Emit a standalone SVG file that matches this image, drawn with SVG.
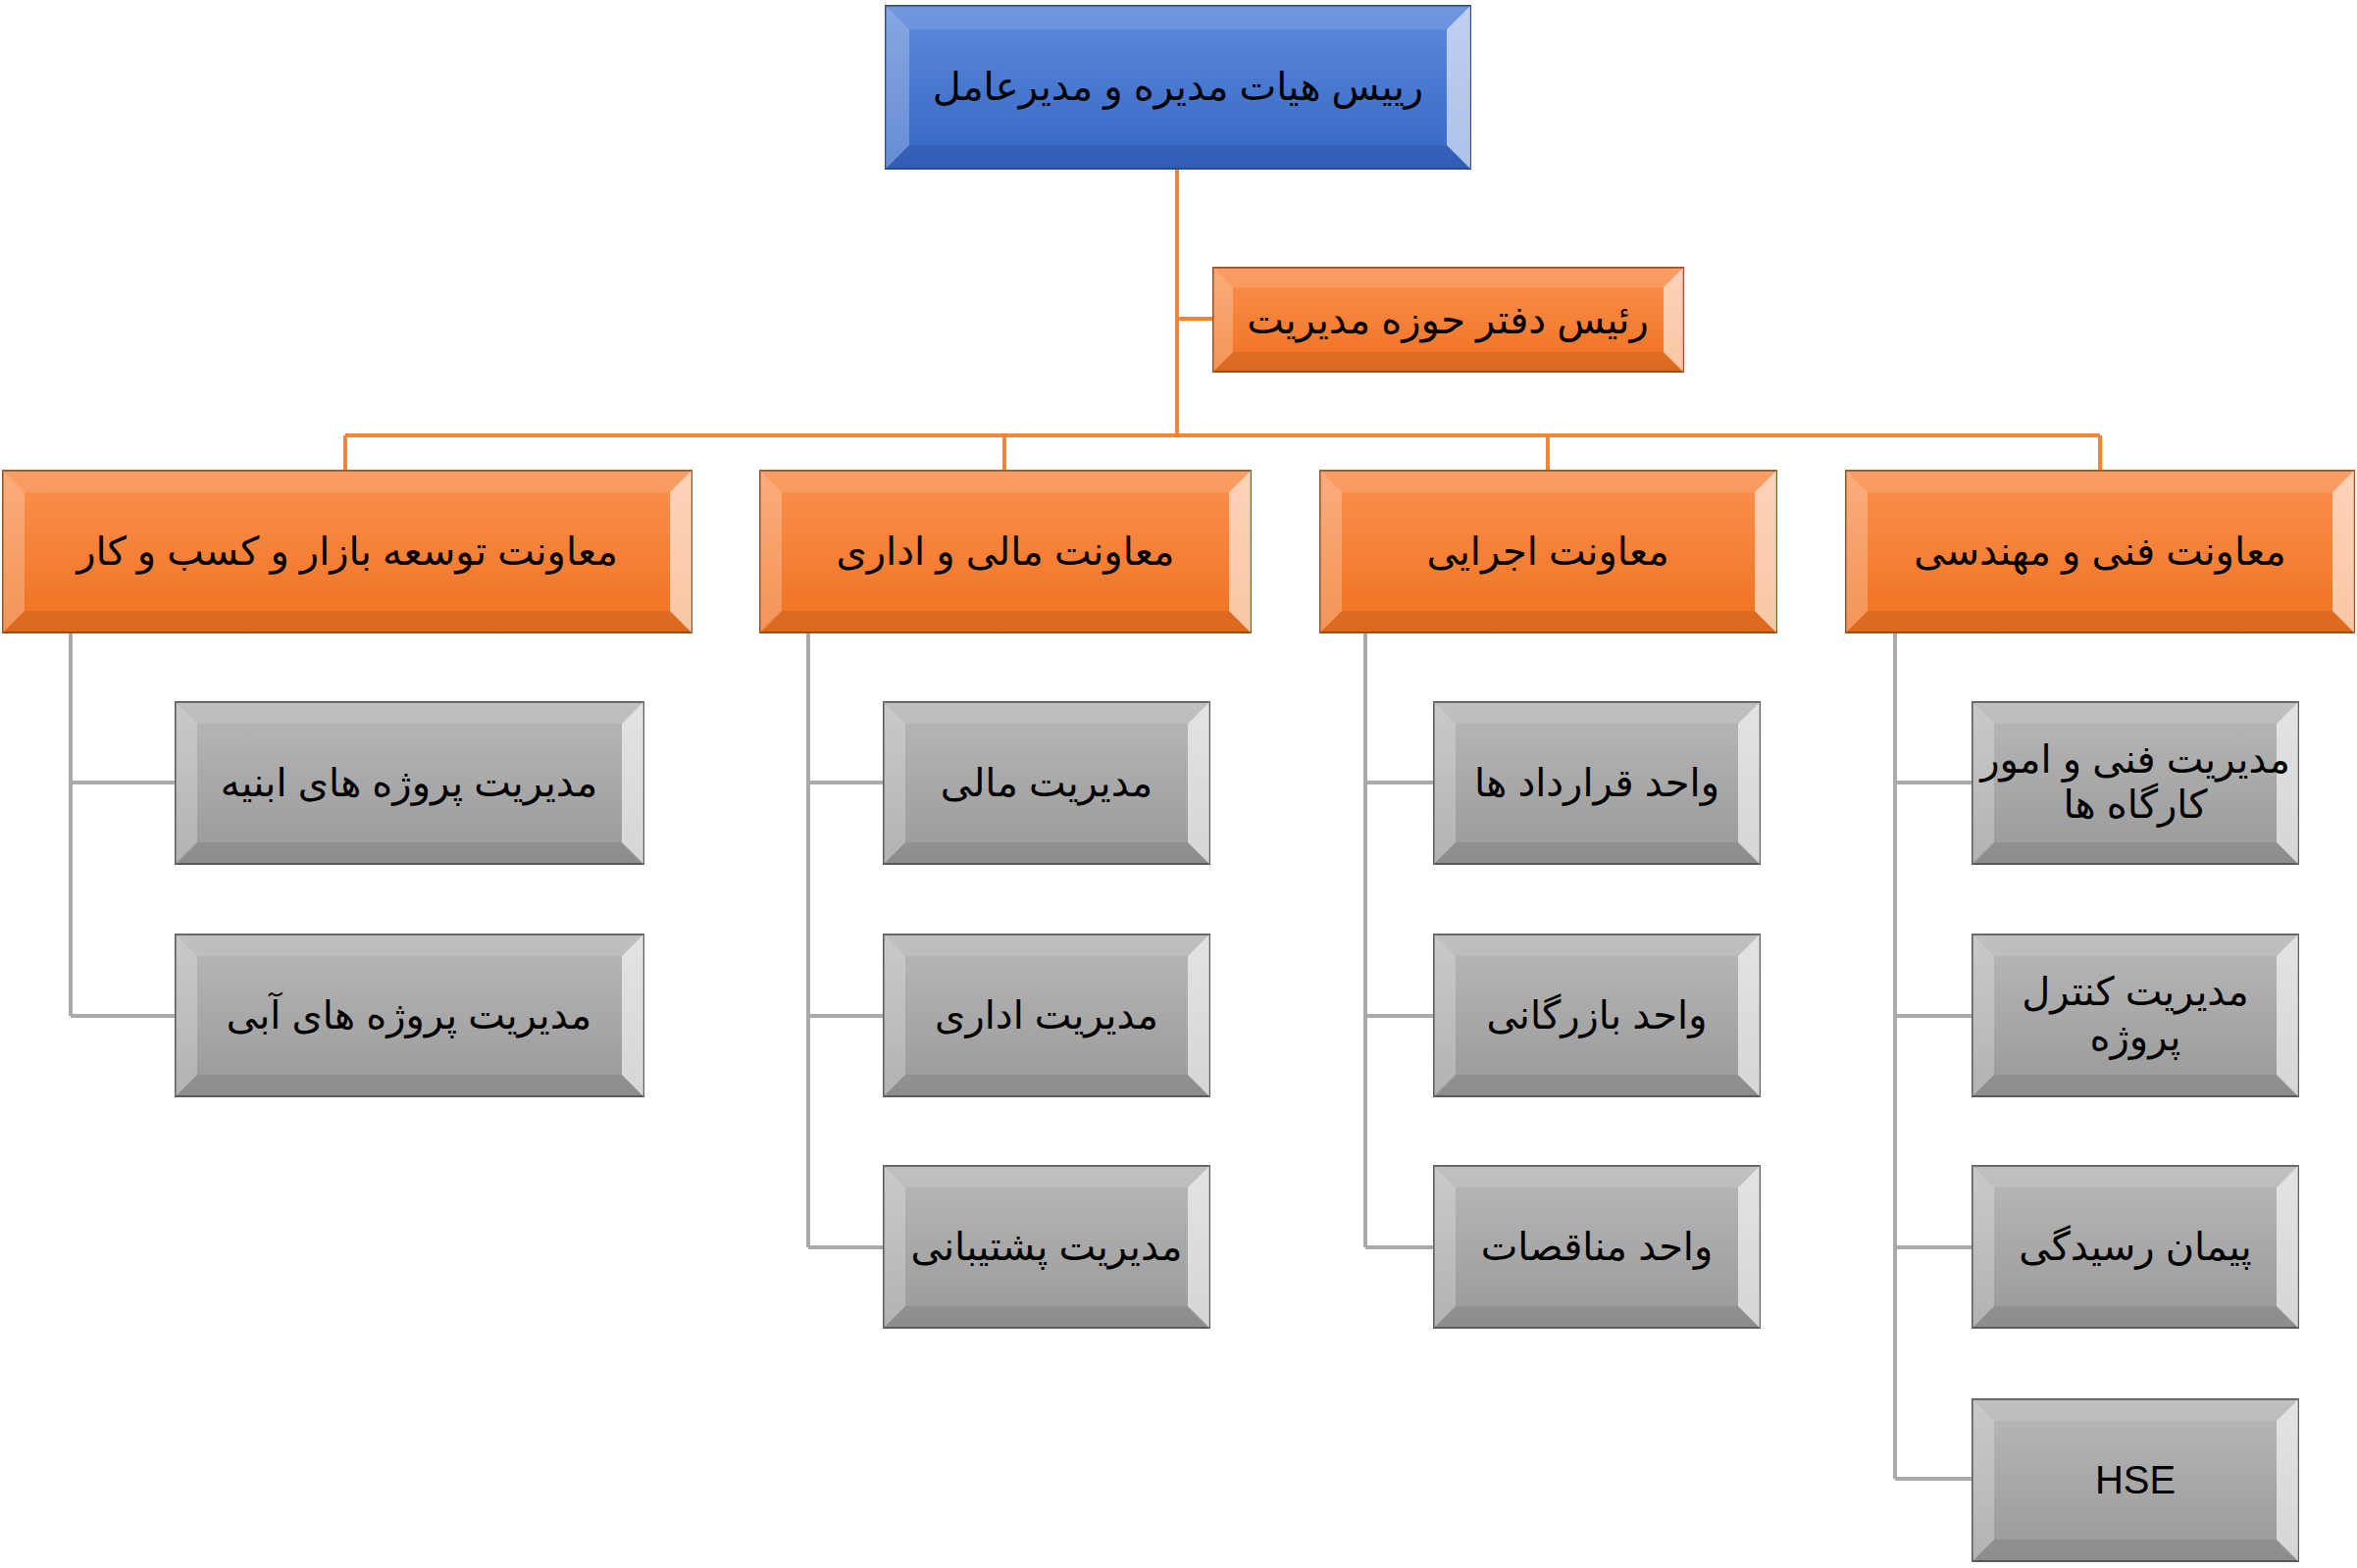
<svg xmlns="http://www.w3.org/2000/svg" xmlns:xlink="http://www.w3.org/1999/xlink" width="2403" height="1599" viewBox="0 0 2403 1599">
<style>
text{font-family:"Liberation Sans","DejaVu Sans","Noto Sans",sans-serif;font-size:40px;fill:#000;text-anchor:middle;direction:rtl}
.bt{fill:#fff;fill-opacity:.12}.bb{fill:#000;fill-opacity:.08}.bl{fill:#fff;fill-opacity:.25}.br{fill:#fff;fill-opacity:.6}
.oc{stroke:#f58536;stroke-width:4;fill:none}.gc{stroke:#aaaaaa;stroke-width:4;fill:none}
</style>
<defs>
<linearGradient id="gb" x1="0" y1="0" x2="0" y2="1"><stop offset="0" stop-color="#5d8ad9"/><stop offset="1" stop-color="#3566c5"/></linearGradient>
<linearGradient id="go" x1="0" y1="0" x2="0" y2="1"><stop offset="0" stop-color="#fb9150"/><stop offset="1" stop-color="#ef711f"/></linearGradient>
<linearGradient id="gg" x1="0" y1="0" x2="0" y2="1"><stop offset="0" stop-color="#b8b8b8"/><stop offset="1" stop-color="#999999"/></linearGradient>
<g id="gA"><rect width="477" height="165" fill="url(#gg)" stroke="#5e5e5e" stroke-width="2"/><polygon class="bt" points="0,0 477,0 455,22 22,22"/><polygon class="bb" points="0,165 477,165 455,143 22,143"/><polygon class="bl" points="0,0 22,22 22,143 0,165"/><polygon class="br" points="477,0 455,22 455,143 477,165"/></g>
<g id="gS"><rect width="332" height="165" fill="url(#gg)" stroke="#5e5e5e" stroke-width="2"/><polygon class="bt" points="0,0 332,0 310,22 22,22"/><polygon class="bb" points="0,165 332,165 310,143 22,143"/><polygon class="bl" points="0,0 22,22 22,143 0,165"/><polygon class="br" points="332,0 310,22 310,143 332,165"/></g>
</defs>
<g id="connectors">
<path class="oc" d="M1200 172V444M1200 325H1237M352 444H2141M352 444V480M1024 444V480M1578 444V480M2141 444V480"/>
<path class="gc" d="M72 645V1036M72 798H179M72 1036H179"/>
<path class="gc" d="M824 645V1272M824 798H901M824 1036H901M824 1272H901"/>
<path class="gc" d="M1392 645V1272M1392 798H1462M1392 1036H1462M1392 1272H1462"/>
<path class="gc" d="M1932 645V1508M1932 798H2011M1932 1036H2011M1932 1272H2011M1932 1508H2011"/>
</g>
<g id="ceo"><rect x="903" y="6" width="596" height="166" fill="url(#gb)" stroke="#2c4f8f" stroke-width="2"/><polygon class="bt" points="903,6 1499,6 1475,30 927,30"/><polygon class="bb" points="903,172 1499,172 1475,148 927,148"/><polygon class="bl" points="903,6 927,30 927,148 903,172"/><polygon class="br" points="1499,6 1475,30 1475,148 1499,172"/><text x="1201" y="102">رییس هیات مدیره و مدیرعامل</text></g>
<g id="office"><rect x="1237" y="273" width="479" height="106" fill="url(#go)" stroke="#a3501a" stroke-width="2"/><polygon class="bt" points="1237,273 1716,273 1696,293 1257,293"/><polygon class="bb" points="1237,379 1716,379 1696,359 1257,359"/><polygon class="bl" points="1237,273 1257,293 1257,359 1237,379"/><polygon class="br" points="1716,273 1696,293 1696,359 1716,379"/><text x="1476" y="340">رئیس دفتر حوزه مدیریت</text></g>
<g id="vpA"><rect x="3" y="480" width="702" height="165" fill="url(#go)" stroke="#a3501a" stroke-width="2"/><polygon class="bt" points="3,480 705,480 683,502 25,502"/><polygon class="bb" points="3,645 705,645 683,623 25,623"/><polygon class="bl" points="3,480 25,502 25,623 3,645"/><polygon class="br" points="705,480 683,502 683,623 705,645"/><text x="354" y="576">معاونت توسعه بازار و کسب و کار</text></g>
<g id="vpB"><rect x="775" y="480" width="500" height="165" fill="url(#go)" stroke="#a3501a" stroke-width="2"/><polygon class="bt" points="775,480 1275,480 1253,502 797,502"/><polygon class="bb" points="775,645 1275,645 1253,623 797,623"/><polygon class="bl" points="775,480 797,502 797,623 775,645"/><polygon class="br" points="1275,480 1253,502 1253,623 1275,645"/><text x="1025" y="576">معاونت مالی و اداری</text></g>
<g id="vpC"><rect x="1346" y="480" width="465" height="165" fill="url(#go)" stroke="#a3501a" stroke-width="2"/><polygon class="bt" points="1346,480 1811,480 1789,502 1368,502"/><polygon class="bb" points="1346,645 1811,645 1789,623 1368,623"/><polygon class="bl" points="1346,480 1368,502 1368,623 1346,645"/><polygon class="br" points="1811,480 1789,502 1789,623 1811,645"/><text x="1578" y="576">معاونت اجرایی</text></g>
<g id="vpD"><rect x="1882" y="480" width="518" height="165" fill="url(#go)" stroke="#a3501a" stroke-width="2"/><polygon class="bt" points="1882,480 2400,480 2378,502 1904,502"/><polygon class="bb" points="1882,645 2400,645 2378,623 1904,623"/><polygon class="bl" points="1882,480 1904,502 1904,623 1882,645"/><polygon class="br" points="2400,480 2378,502 2378,623 2400,645"/><text x="2141" y="576">معاونت فنی و مهندسی</text></g>
<g id="a1" transform="translate(179,716)"><use xlink:href="#gA"/><text x="238" y="96">مدیریت پروژه های ابنیه</text></g>
<g id="a2" transform="translate(179,953)"><use xlink:href="#gA"/><text x="238" y="96">مدیریت پروژه های آبی</text></g>
<g id="b1" transform="translate(901,716)"><use xlink:href="#gS"/><text x="166" y="96">مدیریت مالی</text></g>
<g id="b2" transform="translate(901,953)"><use xlink:href="#gS"/><text x="166" y="96">مدیریت اداری</text></g>
<g id="b3" transform="translate(901,1189)"><use xlink:href="#gS"/><text x="166" y="96">مدیریت پشتیبانی</text></g>
<g id="c1" transform="translate(1462,716)"><use xlink:href="#gS"/><text x="166" y="96">واحد قرارداد ها</text></g>
<g id="c2" transform="translate(1462,953)"><use xlink:href="#gS"/><text x="166" y="96">واحد بازرگانی</text></g>
<g id="c3" transform="translate(1462,1189)"><use xlink:href="#gS"/><text x="166" y="96">واحد مناقصات</text></g>
<g id="d1" transform="translate(2011,716)"><use xlink:href="#gS"/><text x="166" y="72">مدیریت فنی و امور</text><text x="166" y="118">کارگاه ها</text></g>
<g id="d2" transform="translate(2011,953)"><use xlink:href="#gS"/><text x="166" y="72">مدیریت کنترل</text><text x="166" y="118">پروژه</text></g>
<g id="d3" transform="translate(2011,1189)"><use xlink:href="#gS"/><text x="166" y="96">پیمان رسیدگی</text></g>
<g id="d4" transform="translate(2011,1427)"><use xlink:href="#gS"/><text x="166" y="96" style="direction:ltr">HSE</text></g>
</svg>
